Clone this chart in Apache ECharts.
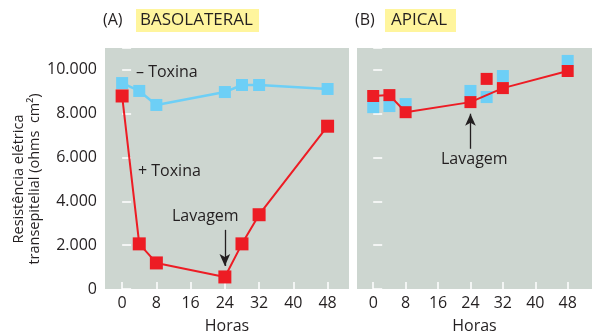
<!DOCTYPE html>
<html><head><meta charset="utf-8">
<script src="https://cdn.jsdelivr.net/npm/echarts@6/dist/echarts.min.js"></script>
<style>html,body{margin:0;padding:0;background:#fff}#c{width:592px;height:336px}</style>
</head><body><div id="c"></div>
<script>
const hours = [0, 4, 8, 24, 28, 32, 48];
const xTicks = [0, 8, 16, 24, 32, 40, 48];
const yTicks = [0, 2000, 4000, 6000, 8000, 10000];
const basoMinus = [9400, 9040, 8400, 8990, 9310, 9310, 9130];
const basoPlus = [8810, 2060, 1190, 550, 2060, 3390, 7430];
const apicMinus = [8300, 8350, 8440, 9040, 8760, 9720, 10410];
const apicPlusLine = [[0, 8810], [4, 8850], [8, 8070], [24, 8530], [32, 9170], [48, 9950]];
const apicPlusExtra = [[28, 9590]];

const BLUE = '#6dcff6', RED = '#ed1c24', GRAY = '#cdd6d0', TXT = '#231f20';
const FONT = 'Open Sans';
const pair = (xs, ys) => xs.map((x, i) => [x, ys[i]]);
const fmt = v => v === 0 ? '0' : (v / 1000).toFixed(3);

function xAxis(idx) {
  return {
    type: 'value', gridIndex: idx, min: -4, max: idx === 0 ? 53 : 54,
    interval: 8,
    axisLine: { show: false },
    axisTick: { show: true, inside: true, length: 7, lineStyle: { color: '#fff', width: 1.5 }, customValues: xTicks },
    axisLabel: { color: TXT, fontFamily: FONT, fontSize: 16, margin: 6, customValues: xTicks },
    splitLine: { show: false },
    name: 'Horas', nameLocation: 'middle', nameGap: 29,
    nameTextStyle: { color: TXT, fontFamily: FONT, fontSize: 16 }
  };
}
function yAxis(idx) {
  return {
    type: 'value', gridIndex: idx, min: 0, max: 11000, interval: 2000,
    axisLine: { show: false },
    axisTick: { show: true, inside: true, length: 9, lineStyle: { color: '#fff', width: 1.5 } },
    axisLabel: { show: idx === 0, color: TXT, fontFamily: FONT, fontSize: 16, margin: 8, formatter: fmt, customValues: yTicks },
    splitLine: { show: false }
  };
}
const titleFont = '14.5px "Open Sans"';

const chart = echarts.init(document.getElementById('c'), null, { renderer: 'canvas' });
chart.setOption({
  animation: false,
  backgroundColor: '#fff',
  grid: [
    { left: 105, right: 243, top: 48, bottom: 47, show: true, backgroundColor: GRAY, borderWidth: 0, containLabel: false, outerBoundsMode: 'none' },
    { left: 357, right: 0, top: 48, bottom: 47, show: true, backgroundColor: GRAY, borderWidth: 0, containLabel: false, outerBoundsMode: 'none' }
  ],
  xAxis: [xAxis(0), xAxis(1)],
  yAxis: [yAxis(0), yAxis(1)],
  series: [
    { type: 'line', xAxisIndex: 0, yAxisIndex: 0, data: pair(hours, basoMinus), z: 2,
      symbol: 'rect', symbolSize: 12, itemStyle: { color: BLUE, opacity: 1 }, lineStyle: { color: BLUE, width: 2.5 } },
    { type: 'line', xAxisIndex: 0, yAxisIndex: 0, data: pair(hours, basoPlus), z: 3,
      symbol: 'rect', symbolSize: 13, itemStyle: { color: RED, opacity: 1 }, lineStyle: { color: RED, width: 2 },
      markLine: { silent: true, symbol: ['none', 'arrow'], symbolSize: [8, 12], label: { show: false },
        lineStyle: { color: TXT, width: 1.3, type: 'solid' },
        data: [[{ coord: [24, 2700] }, { coord: [24, 1050] }]] } },
    { type: 'scatter', xAxisIndex: 1, yAxisIndex: 1, data: pair(hours, apicMinus), z: 2,
      symbol: 'rect', symbolSize: 12, itemStyle: { color: BLUE, opacity: 1 } },
    { type: 'line', xAxisIndex: 1, yAxisIndex: 1, data: apicPlusLine, z: 3,
      symbol: 'rect', symbolSize: 12, itemStyle: { color: RED, opacity: 1 }, lineStyle: { color: RED, width: 2 },
      markLine: { silent: true, symbol: ['none', 'arrow'], symbolSize: [8, 12], label: { show: false },
        lineStyle: { color: TXT, width: 1.3, type: 'solid' },
        data: [[{ coord: [24, 6400] }, { coord: [24, 8000] }]] } },
    { type: 'scatter', xAxisIndex: 1, yAxisIndex: 1, data: apicPlusExtra, z: 3,
      symbol: 'rect', symbolSize: 12, itemStyle: { color: RED, opacity: 1 } }
  ],
  graphic: [
    { type: 'rect', shape: { x: 136, y: 9, width: 123, height: 23 }, style: { fill: '#fff59d' } },
    { type: 'rect', shape: { x: 385, y: 9, width: 71, height: 23 }, style: { fill: '#fff59d' } },
    { type: 'text', x: 103, y: 20, style: { text: '(A)', fill: TXT, font: '16px "Open Sans"', verticalAlign: 'middle' } },
    { type: 'text', x: 140, y: 20, style: { text: 'BASOLATERAL', fill: TXT, font: '17px "Open Sans"', verticalAlign: 'middle' } },
    { type: 'text', x: 355, y: 20, style: { text: '(B)', fill: TXT, font: '16px "Open Sans"', verticalAlign: 'middle' } },
    { type: 'text', x: 391, y: 20, style: { text: 'APICAL', fill: TXT, font: '17px "Open Sans"', verticalAlign: 'middle' } },
    { type: 'text', x: 136, y: 72, style: { text: '– Toxina', fill: TXT, font: '16px "Open Sans"', verticalAlign: 'middle' } },
    { type: 'text', x: 138, y: 171, style: { text: '+ Toxina', fill: TXT, font: '16px "Open Sans"', verticalAlign: 'middle' } },
    { type: 'text', x: 172, y: 216, style: { text: 'Lavagem', fill: TXT, font: '16px "Open Sans"', verticalAlign: 'middle' } },
    { type: 'text', x: 441, y: 159, style: { text: 'Lavagem', fill: TXT, font: '16px "Open Sans"', verticalAlign: 'middle' } },
    { type: 'text', x: 19, y: 179, rotation: Math.PI / 2,
      style: { text: 'Resistência elétrica', fill: TXT, font: titleFont, align: 'center', verticalAlign: 'middle' } },
    { type: 'text', x: 35, y: 179, rotation: Math.PI / 2,
      style: { text: 'transepitelial (ohms  cm²)', fill: TXT, font: titleFont, align: 'center', verticalAlign: 'middle' } }
  ]
});
</script></body></html>
